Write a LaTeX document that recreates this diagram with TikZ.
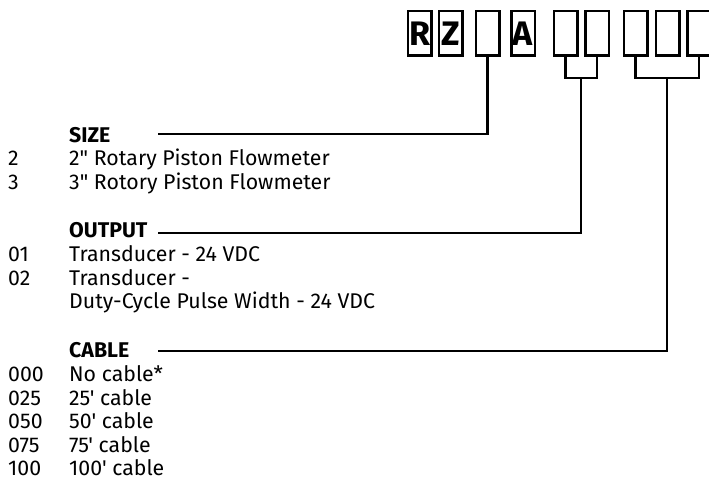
\documentclass[tikz,border=0pt]{standalone}
\usepackage{fontspec}
\setmainfont{Fira Sans}[Ligatures=TeXOff]
\begin{document}
\begin{tikzpicture}[x=1pt,y=-1pt,
  digit/.style={draw, line width=2.5pt, minimum width=23.5pt, minimum height=44.5pt, inner sep=0pt, font=\fontsize{34}{34}\selectfont\bfseries},
  txt/.style={anchor=base west, inner sep=0pt, font=\fontsize{21.3}{24}\selectfont},
  head/.style={anchor=base west, inner sep=0pt, font=\fontsize{21.3}{24}\selectfont\bfseries},
  lead/.style={line width=2.2pt}]
\useasboundingbox (0,0) rectangle (709,483);
\clip (0,0) rectangle (709,483);
% code boxes
\node[digit] (b1) at (419.5,33.3){R};
\node[digit] (b2) at (450.5,33.3){Z};
\node[digit] (b3) at (487.5,33.3){};
\node[digit] (b4) at (523,33.3){A};
\node[digit] (b5) at (565.5,33.3){};
\node[digit] (b6) at (597,33.3){};
\node[digit] (b7) at (635.5,33.3){};
\node[digit] (b8) at (667.5,33.3){};
\node[digit] (b9) at (699,33.3){};
% size
\node[head] (hsize) at (69,142){SIZE};
\node[txt] (n2) at (8,165){2};
\node[txt] (t2) at (69,165){2" Rotary Piston Flowmeter};
\node[txt] (n3) at (8,189){3};
\node[txt] (t3) at (69,189){3" Rotory Piston Flowmeter};
\coordinate (sizeend) at (158,134);
\draw[lead](b3.south) |- (sizeend);
% output
\node[head] (hout) at (69,237){OUTPUT};
\node[txt] (n01) at (8,261.5){01};
\node[txt] (t01) at (69,261.5){Transducer - 24 VDC};
\node[txt] (n02) at (8,285){02};
\node[txt] (t02) at (69,285){Transducer -};
\node[txt] (t02b) at (69,308.5){Duty-Cycle Pulse Width - 24 VDC};
\coordinate (outfork) at (581.25,78);
\coordinate (outend) at (158,233);
\draw[lead](b5.south) |- (outfork) -| (b6.south);
\draw[lead](outfork) |- (outend);
% cable
\node[head] (hcab) at (69,357){CABLE};
\node[txt] (n000) at (8,381.5){000};
\node[txt] (t000) at (69,381.5){No cable*};
\node[txt] (n025) at (8,405){025};
\node[txt] (t025) at (69,405){25' cable};
\node[txt] (n050) at (8,428.5){050};
\node[txt] (t050) at (69,428.5){50' cable};
\node[txt] (n075) at (8,452){075};
\node[txt] (t075) at (69,452){75' cable};
\node[txt] (n100) at (8,475.5){100};
\node[txt] (t100) at (69,475.5){100' cable};
\coordinate (cabfork) at (667.25,78);
\coordinate (cabend) at (158,351);
\draw[lead](b7.south) |- (cabfork) -| (b9.south);
\draw[lead](cabfork) |- (cabend);
\end{tikzpicture}
\end{document}
